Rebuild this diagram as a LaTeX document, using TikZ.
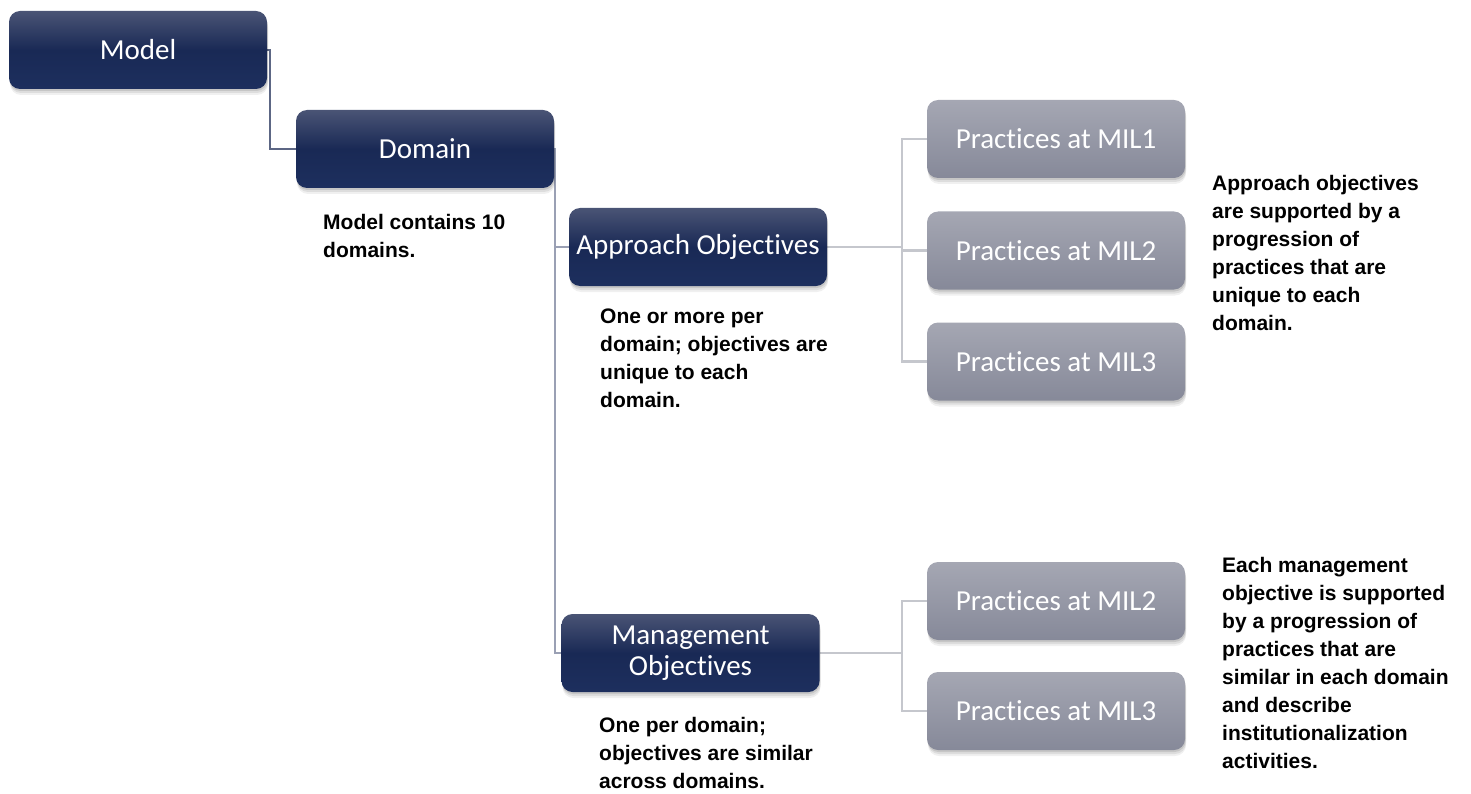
\documentclass[tikz,border=0pt]{standalone}
\usepackage{fontspec}
\newfontfamily\boxfont{Carlito}[Ligatures={NoCommon}]
\newfontfamily\lblfont{Liberation Sans}
\usetikzlibrary{shadows,backgrounds}
\definecolor{navytop}{HTML}{4A5475}
\definecolor{navymid}{HTML}{192955}
\definecolor{navybot}{HTML}{1D2F5E}
\definecolor{graytop}{HTML}{A5A7B3}
\definecolor{graybot}{HTML}{868999}
\definecolor{linkdark}{HTML}{5C6684}
\definecolor{linkmid}{HTML}{9AA0B4}
\definecolor{linklight}{HTML}{C5C7CD}
\tikzset{
  softshadow/.style={
    general shadow={fill=black, opacity=0.06, shadow yshift=-6pt, shadow xshift=1pt},
    general shadow={fill=black, opacity=0.08, shadow yshift=-4pt, shadow xshift=1pt},
    general shadow={fill=black, opacity=0.10, shadow yshift=-2pt, shadow xshift=0.5pt}},
  navybox/.style={rectangle, rounded corners=11pt, minimum width=258pt, minimum height=78pt,
    inner sep=2pt, softshadow, top color=navytop, bottom color=navybot, middle color=navymid,
    text=white, font=\boxfont\fontsize{29}{31}\selectfont, align=center},
  graybox/.style={rectangle, rounded corners=11pt, minimum width=258pt, minimum height=78pt,
    inner sep=2pt, softshadow, top color=graytop, bottom color=graybot,
    text=white, font=\boxfont\fontsize{29}{31}\selectfont, align=center},
  lbl/.style={anchor=north west, inner sep=0pt, align=left,
    font=\lblfont\bfseries\fontsize{21}{28}\selectfont, text=black},
  linkA/.style={draw=linkdark, line width=2pt},
  linkB/.style={draw=linkmid, line width=2pt},
  linkC/.style={draw=linklight, line width=2.5pt},
}
\begin{document}
\begin{tikzpicture}[x=1pt,y=-1pt]
\useasboundingbox (0,0) rectangle (1471,794);
% boxes
\node[navybox] (model) at (138,50) {Model};
\node[navybox] (domain) at (425,149) {Domain};
\node[navybox] (appr) at (698,247) {Approach Objectives};
\node[navybox] (mgmt) at (690.5,653) {Management\\Objectives};
\node[graybox] (p1) at (1056,139) {Practices at MIL1};
\node[graybox] (p2) at (1056,250.5) {Practices at MIL2};
\node[graybox] (p3) at (1056,361.5) {Practices at MIL3};
\node[graybox] (q2) at (1056,601) {Practices at MIL2};
\node[graybox] (q3) at (1056,711) {Practices at MIL3};
% junction coordinates
\coordinate (mj) at (270,50);
\coordinate (dj) at (555,149);
\coordinate (aj) at (902,247);
\coordinate (gj) at (902,653);
% connectors
\begin{pgfonlayer}{background}
\draw[linkA] (model.east) -- (mj) |- (domain.west);
\draw[linkB] (domain.east) -- (dj) |- (appr.west);
\draw[linkB] (dj) |- (mgmt.west);
\draw[linkC] (appr.east) -- (aj);
\draw[linkC] (aj) |- (p1.west);
\draw[linkC] (aj) |- (p3.west);
\draw[linkC] (aj) |- (p2.west);
\draw[linkC] (mgmt.east) -- (gj);
\draw[linkC] (gj) |- (q2.west);
\draw[linkC] (gj) |- (q3.west);
\end{pgfonlayer}
% labels
\node[lbl] (ldomain) at (323,214) {Model contains 10\\domains.};
\node[lbl] (lappr) at (600,309) {One or more per\\domain; objectives are\\unique to each\\domain.};
\node[lbl] (lmgmt) at (599,717) {One per domain;\\objectives are similar\\across domains.};
\node[lbl] (lpr) at (1212,175) {Approach objectives\\are supported by a\\progression of\\practices that are\\unique to each\\domain.};
\node[lbl] (lmq) at (1222,557) {Each management\\objective is supported\\by a progression of\\practices that are\\similar in each domain\\and describe\\institutionalization\\activities.};
\end{tikzpicture}
\end{document}
